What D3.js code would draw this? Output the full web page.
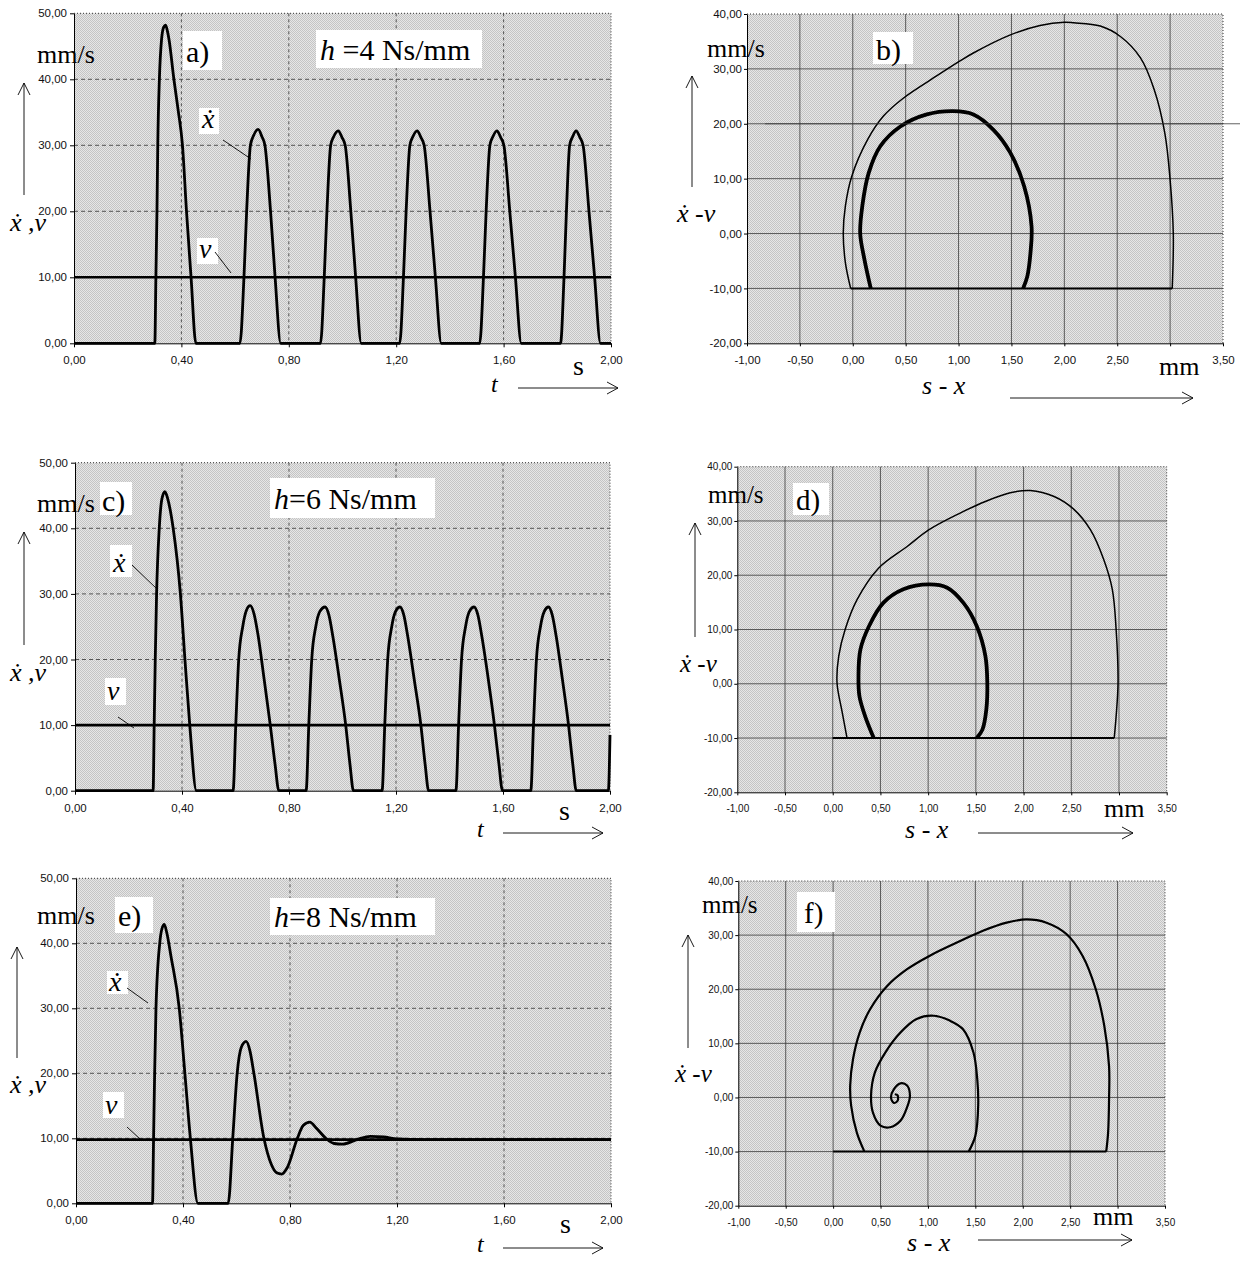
<!DOCTYPE html>
<html><head><meta charset="utf-8">
<script src="https://cdn.jsdelivr.net/npm/d3@7"></script>
<style>
body{margin:0;background:#fff;}
text{font-family:"Liberation Serif","DejaVu Serif",serif;}
.tick text{font-family:"Liberation Sans",Arial,sans-serif;fill:#111;}
</style></head><body>
<script>
// ---------- DATA ----------
const tTicks = [0, 0.4, 0.8, 1.2, 1.6, 2.0];
const vTicks = [0, 10, 20, 30, 40, 50];
const phaseXTicks = [-1, -0.5, 0, 0.5, 1, 1.5, 2, 2.5, 3, 3.5];
const phaseYTicks = [-20, -10, 0, 10, 20, 30, 40];
const phaseXHiddenLabel = 3; // covered by the "mm" unit in the original

// panel a: h = 4 Ns/mm
const vA = 10;
const xdotA = [[0,0],[0.301,0],[0.305,10],[0.309,20],[0.312,30],[0.318,40],[0.326,46],[0.334,47.9],[0.341,48.2],[0.348,47.3],[0.354,46],[0.372,40],[0.388,35.3],[0.404,30],[0.419,20],[0.436,10],[0.454,0],
[0.618,0],[0.633,10],[0.643,20],[0.657,30],[0.668,31.4],[0.686,32.4],[0.700,31.3],[0.711,30],[0.732,20],[0.749,10],[0.770,0],
[0.918,0],[0.932,10],[0.942,20],[0.956,30],[0.967,31.3],[0.984,32.2],[0.998,31.2],[1.010,30],[1.031,20],[1.049,10],[1.070,0],
[1.213,0],[1.227,10],[1.237,20],[1.251,30],[1.262,31.3],[1.278,32.2],[1.292,31.2],[1.304,30],[1.326,20],[1.346,10],[1.368,0],
[1.511,0],[1.525,10],[1.535,20],[1.549,30],[1.560,31.3],[1.575,32.2],[1.589,31.2],[1.601,30],[1.623,20],[1.644,10],[1.666,0],
[1.812,0],[1.825,10],[1.834,20],[1.846,30],[1.857,31.3],[1.870,32.2],[1.884,31.2],[1.896,30],[1.918,20],[1.939,10],[1.961,0],[2.0,0]];

// panel c: h = 6 Ns/mm
const vC = 10;
const xdotC = [[0,0],[0.292,0],[0.296,10],[0.300,20],[0.305,30],[0.315,40],[0.325,44.5],[0.336,45.6],[0.346,44.6],[0.367,40],[0.394,30],[0.411,20],[0.429,10],[0.454,0],
[0.591,0],[0.601,10],[0.612,20],[0.627,25],[0.641,27.5],[0.655,28.2],[0.669,27],[0.684,23.8],[0.707,17],[0.730,10],[0.748,4],[0.762,0],
[0.864,0],[0.874,10],[0.885,20],[0.900,25],[0.915,27.3],[0.935,28],[0.949,26.8],[0.964,23.5],[0.988,17],[1.012,10],[1.028,4],[1.041,0],
[1.148,0],[1.158,10],[1.169,20],[1.184,25],[1.198,27.3],[1.215,28],[1.229,26.8],[1.244,23.5],[1.268,17],[1.293,10],[1.309,4],[1.322,0],
[1.424,0],[1.434,10],[1.445,20],[1.460,25],[1.474,27.3],[1.492,28],[1.506,26.8],[1.521,23.5],[1.545,17],[1.568,10],[1.585,4],[1.598,0],
[1.704,0],[1.714,10],[1.725,20],[1.740,25],[1.754,27.3],[1.770,28],[1.784,26.8],[1.799,23.5],[1.822,17],[1.845,10],[1.861,4],[1.874,0],
[1.994,0],[2.0,8.5]];

// panel e: h = 8 Ns/mm
const vE = 9.8;
const xdotE = [[0,0],[0.286,0],[0.290,10],[0.294,20],[0.299,30],[0.313,40],[0.321,42.2],[0.330,42.9],[0.340,41.5],[0.355,38],[0.386,30],[0.407,20],[0.4275,10],[0.456,0],
[0.569,0],[0.586,10],[0.6025,20],[0.618,24],[0.636,24.9],[0.650,23.5],[0.665,20],[0.7025,10],[0.730,6],[0.750,4.7],[0.769,4.5],[0.790,5.5],[0.8275,10],[0.850,12],[0.874,12.5],[0.900,11.5],[0.934,10],[0.965,9.2],[0.996,9.1],[1.05,9.8],[1.10,10.3],[1.15,10.2],[1.20,9.9],[1.30,9.8],[2.0,9.8]];

// panel b (phase, h = 4)
const phaseB_outer = [[3.02,-10],[3.03,0],[3.00,9.8],[2.95,18.3],[2.85,26.2],[2.72,32],[2.53,35.9],[2.34,37.8],[2.09,38.4],[2.00,38.5],[1.77,37.9],[1.49,36.2],[1.14,32.9],[1.01,31.4],[0.80,28.8],[0.48,24.7],[0.29,21.4],[0.14,17.1],[-0.01,10.4],[-0.07,5],[-0.09,0.1],[-0.07,-5.3],[-0.02,-10]];
const phaseB_inner = [[0.17,-10],[0.11,-4.7],[0.07,0],[0.09,5],[0.15,11],[0.26,15.9],[0.45,19.5],[0.70,21.7],[0.95,22.3],[1.14,21.7],[1.33,18.9],[1.49,14.7],[1.62,8.6],[1.69,1.3],[1.68,-3.5],[1.65,-7.8],[1.61,-10]];
const phaseB_stick = [[-0.02,-10],[3.02,-10]];

// panel d (phase, h = 6)
const phaseD_outer = [[0.15,-10],[0.10,-5.3],[0.045,0.2],[0.063,5.1],[0.13,10],[0.255,15.5],[0.48,21.3],[0.78,25.3],[1.01,28.4],[1.34,31.5],[1.60,33.6],[1.86,35.2],[2.07,35.6],[2.32,34.5],[2.53,32.1],[2.70,28.4],[2.84,22.9],[2.93,17.4],[2.97,10],[2.99,0.2],[2.97,-6],[2.95,-10]];
const phaseD_inner = [[0.43,-10],[0.34,-6],[0.28,-2.3],[0.27,1.4],[0.29,6.3],[0.38,10.6],[0.53,14.9],[0.74,17.4],[1.01,18.3],[1.20,17.7],[1.37,14.9],[1.51,10.6],[1.60,5.1],[1.62,0.2],[1.61,-4.7],[1.57,-8.4],[1.51,-10]];
const phaseD_stick = [[0,-10],[2.95,-10]];

// panel f (phase, h = 8)
const phaseF_outer = [[0.33,-10],[0.25,-6.5],[0.19,-1.5],[0.18,2.2],[0.21,7.1],[0.28,12],[0.39,16.3],[0.57,20.6],[0.78,23.7],[1.02,26.2],[1.34,28.9],[1.58,30.8],[1.83,32.3],[2.04,32.9],[2.25,32.3],[2.46,30.2],[2.63,26.2],[2.77,20],[2.86,13.2],[2.91,5.8],[2.91,-0.3],[2.90,-6.5],[2.88,-10]];
const phaseF_spiral = [[1.43,-10],[1.50,-7.1],[1.53,-1.5],[1.52,3.4],[1.48,8.3],[1.37,12.6],[1.23,14.2],[1.06,15.1],[0.88,14.5],[0.71,12],[0.55,8.3],[0.44,4.6],[0.40,0.3],[0.42,-2.8],[0.50,-5.2],[0.60,-5.5],[0.71,-4.3],[0.78,-1.8],[0.81,0.3],[0.78,2.2],[0.71,2.6],[0.64,1.5],[0.61,0],[0.64,-1],[0.68,-0.6],[0.68,0.4],[0.65,0.6]];
const phaseF_stick = [[0,-10],[2.88,-10]];

// ---------- DRAW ----------
const fmt = v => v.toFixed(2).replace('.', ',');
const fmtPhase = v => v === phaseXHiddenLabel ? '' : fmt(v);
const svg = d3.select('body').append('svg').attr('width',1249).attr('height',1263);
const defs = svg.append('defs');
const pat = defs.append('pattern').attr('id','dots').attr('width',2).attr('height',2).attr('patternUnits','userSpaceOnUse');
pat.append('rect').attr('width',2).attr('height',2).attr('fill','#e6e6e6');
pat.append('rect').attr('width',1).attr('height',1).attr('fill','#c4c4c4');
pat.append('rect').attr('x',1).attr('y',1).attr('width',1).attr('height',1).attr('fill','#c4c4c4');

function styleAxis(sel, fs){
  sel.select('.domain').attr('stroke','#000').attr('stroke-width',1);
  sel.selectAll('.tick line').attr('stroke','#000');
  sel.selectAll('.tick text').attr('font-size',fs);
}
function arrowRight(g,x1,x2,y){
  g.append('line').attr('x1',x1).attr('x2',x2).attr('y1',y).attr('y2',y).attr('stroke','#000').attr('stroke-width',0.9);
  g.append('path').attr('d',`M${x2-11},${y-6}L${x2},${y}L${x2-11},${y+6}`).attr('fill','none').attr('stroke','#000').attr('stroke-width',0.9);
}
function arrowUp(g,x,y1,y2){
  g.append('line').attr('x1',x).attr('x2',x).attr('y1',y1).attr('y2',y2).attr('stroke','#000').attr('stroke-width',0.9);
  g.append('path').attr('d',`M${x-6},${y2+12}L${x},${y2}L${x+6},${y2+12}`).attr('fill','none').attr('stroke','#000').attr('stroke-width',0.9);
}
function txt(g,x,y,s,fs,italic){
  return g.append('text').attr('x',x).attr('y',y).attr('font-size',fs).attr('font-style',italic?'italic':'normal').text(s);
}
function box(g,x,y,w,h){ g.append('rect').attr('x',x).attr('y',y).attr('width',w).attr('height',h).attr('fill','#fff'); }
function leader(g,x1,y1,x2,y2){ g.append('line').attr('x1',x1).attr('y1',y1).attr('x2',x2).attr('y2',y2).attr('stroke','#000').attr('stroke-width',0.9); }

function timePanel(L, xdot, vval){
  const x = d3.scaleLinear().domain([0,2]).range([L.x0,L.x1]);
  const y = d3.scaleLinear().domain([0,50]).range([L.yB,L.yT]);
  const g = svg.append('g');
  g.append('rect').attr('x',L.x0).attr('y',L.yT).attr('width',L.x1-L.x0).attr('height',L.yB-L.yT).attr('fill','url(#dots)');
  g.selectAll('.vg').data(tTicks.slice(1,-1)).join('line').attr('x1',d=>x(d)).attr('x2',d=>x(d)).attr('y1',L.yT).attr('y2',L.yB)
    .attr('stroke','#333').attr('stroke-width',0.8).attr('stroke-dasharray','3,3');
  g.selectAll('.hg').data(vTicks.slice(1,-1)).join('line').attr('x1',L.x0).attr('x2',L.x1).attr('y1',d=>y(d)).attr('y2',d=>y(d))
    .attr('stroke','#333').attr('stroke-width',0.8).attr('stroke-dasharray','4,3');
  g.append('path').attr('d',`M${L.x0},${L.yT}H${L.x1}V${L.yB}`).attr('fill','none').attr('stroke','#333').attr('stroke-dasharray','1,2');
  g.append('g').attr('transform',`translate(0,${L.yB})`)
    .call(d3.axisBottom(x).tickValues(tTicks).tickFormat(fmt).tickSizeInner(4).tickSizeOuter(0).tickPadding(9)).call(s=>styleAxis(s,11.5));
  g.append('g').attr('transform',`translate(${L.x0},0)`)
    .call(d3.axisLeft(y).tickValues(vTicks).tickFormat(fmt).tickSizeInner(4).tickSizeOuter(0).tickPadding(3)).call(s=>styleAxis(s,11.5));
  g.append('line').attr('x1',x(0)).attr('x2',x(2)).attr('y1',y(vval)).attr('y2',y(vval)).attr('stroke','#000').attr('stroke-width',2.6);
  g.append('path').datum(xdot).attr('fill','none').attr('stroke','#000').attr('stroke-width',2.8).attr('stroke-linejoin','round')
    .attr('d',d3.line().x(d=>x(d[0])).y(d=>y(d[1])).curve(d3.curveMonotoneX));
  return g;
}

function phasePanel(L, outer, inner, stick, wOuter, wInner, fs){
  const x = d3.scaleLinear().domain([-1,3.5]).range([L.x0,L.x1]);
  const y = d3.scaleLinear().domain([-20,40]).range([L.yB,L.yT]);
  const g = svg.append('g');
  g.append('rect').attr('x',L.x0).attr('y',L.yT).attr('width',L.x1-L.x0).attr('height',L.yB-L.yT).attr('fill','url(#dots)');
  g.selectAll('.vg').data(phaseXTicks.slice(1,-1)).join('line').attr('x1',d=>x(d)).attr('x2',d=>x(d)).attr('y1',L.yT).attr('y2',L.yB)
    .attr('stroke','#3a3a3a').attr('stroke-width',0.8);
  g.selectAll('.hg').data(phaseYTicks.slice(1,-1)).join('line').attr('x1',L.x0).attr('x2',L.x1).attr('y1',d=>y(d)).attr('y2',d=>y(d))
    .attr('stroke','#3a3a3a').attr('stroke-width',0.8);
  g.append('path').attr('d',`M${L.x0},${L.yT}H${L.x1}V${L.yB}`).attr('fill','none').attr('stroke','#333').attr('stroke-dasharray','1,2');
  g.append('g').attr('transform',`translate(0,${L.yB})`)
    .call(d3.axisBottom(x).tickValues(phaseXTicks).tickFormat(fmtPhase).tickSizeInner(3).tickSizeOuter(0).tickPadding(10)).call(s=>styleAxis(s,fs));
  g.append('g').attr('transform',`translate(${L.x0},0)`)
    .call(d3.axisLeft(y).tickValues(phaseYTicks).tickFormat(fmt).tickSizeInner(3).tickSizeOuter(0).tickPadding(2)).call(s=>styleAxis(s,fs));
  const line = d3.line().x(d=>x(d[0])).y(d=>y(d[1])).curve(d3.curveCatmullRom.alpha(0.5));
  g.append('path').datum(stick).attr('fill','none').attr('stroke','#000').attr('stroke-width',2).attr('d',d3.line().x(d=>x(d[0])).y(d=>y(d[1])));
  g.append('path').datum(outer).attr('fill','none').attr('stroke','#000').attr('stroke-width',wOuter).attr('d',line);
  g.append('path').datum(inner).attr('fill','none').attr('stroke','#000').attr('stroke-width',wInner).attr('d',line);
  return {g,x,y};
}

// ---- panel a ----
const ga = timePanel({x0:74,x1:611,yT:13.3,yB:343.3}, xdotA, vA);
txt(ga,37,63,'mm/s',26);
box(ga,183,31,39,39); txt(ga,186,62,'a)',30);
box(ga,316,30,166,38); const ha = txt(ga,320,60,'',30); ha.append('tspan').attr('font-style','italic').text('h'); ha.append('tspan').text(' =4 Ns/mm');
box(ga,199,108,20,26); txt(ga,202,128,'ẋ',28,true); leader(ga,223,140,251,159);
box(ga,197,238,21,26); txt(ga,199,258,'v',28,true); leader(ga,215,252,231,273);
txt(ga,10,231,'ẋ ,v',26,true);
arrowUp(ga,24,195,83);
txt(ga,491,392,'t',24,true); txt(ga,573,375,'s',28); arrowRight(ga,518,618,388);

// ---- panel c ----
const gc = timePanel({x0:75,x1:610,yT:462.7,yB:790.7}, xdotC, vC);
txt(gc,37,512,'mm/s',26);
box(gc,100,482,32,33); txt(gc,102,511,'c)',30);
box(gc,270,478,165,40); const hc = txt(gc,274,509,'',30); hc.append('tspan').attr('font-style','italic').text('h'); hc.append('tspan').text('=6 Ns/mm');
box(gc,110,545,22,32); txt(gc,113,572,'ẋ',28,true); leader(gc,132,565,157,589);
box(gc,105,678,21,27); txt(gc,107,700,'v',28,true); leader(gc,118,717,134,728);
txt(gc,10,681,'ẋ ,v',26,true);
arrowUp(gc,24,645,532);
txt(gc,477,837,'t',24,true); txt(gc,559,820,'s',28); arrowRight(gc,503,603,833);

// ---- panel e ----
const ge = timePanel({x0:76,x1:611,yT:878.3,yB:1203.3}, xdotE, vE);
txt(ge,37,924,'mm/s',26);
box(ge,115,897,38,36); txt(ge,118,926,'e)',30);
box(ge,270,898,165,37); const he = txt(ge,274,927,'',30); he.append('tspan').attr('font-style','italic').text('h'); he.append('tspan').text('=8 Ns/mm');
box(ge,107,971,21,23); txt(ge,109,991,'ẋ',28,true); leader(ge,127,988,148,1003);
box(ge,103,1092,21,26); txt(ge,105,1114,'v',28,true); leader(ge,127,1127,140,1139);
txt(ge,10,1093,'ẋ ,v',26,true);
arrowUp(ge,17,1058,947);
txt(ge,477,1252,'t',24,true); txt(ge,560,1233,'s',28); arrowRight(ge,503,603,1248);

// ---- panel b ----
const pb = phasePanel({x0:747,x1:1223,yT:14,yB:343.3}, phaseB_outer, phaseB_inner, phaseB_stick, 1.5, 3.8, 11.5);
pb.g.append('line').attr('x1',765).attr('x2',1240).attr('y1',pb.y(20)).attr('y2',pb.y(20)).attr('stroke','#3a3a3a').attr('stroke-width',0.8);
txt(pb.g,707,57,'mm/s',26);
box(pb.g,873,32,40,32); txt(pb.g,876,60,'b)',30);
arrowUp(pb.g,692,187,76);
txt(pb.g,677,222,'ẋ -v',26,true);
const sb = txt(pb.g,922,394,'',26,false); sb.append('tspan').attr('font-style','italic').text('s'); sb.append('tspan').text(' - '); sb.append('tspan').attr('font-style','italic').text('x');
arrowRight(pb.g,1010,1193,398);
txt(pb.g,1159,375,'mm',26);

// ---- panel d ----
const pd = phasePanel({x0:737.3,x1:1166.7,yT:466.7,yB:792.3}, phaseD_outer, phaseD_inner, phaseD_stick, 1.5, 3.8, 10);
txt(pd.g,708,503,'mm/s',25);
box(pd.g,793,483,36,32); txt(pd.g,796,510,'d)',29);
arrowUp(pd.g,695,637,523);
txt(pd.g,680,672,'ẋ -v',25,true);
const sd = txt(pd.g,905,838,'',26,false); sd.append('tspan').attr('font-style','italic').text('s'); sd.append('tspan').text(' - '); sd.append('tspan').attr('font-style','italic').text('x');
arrowRight(pd.g,978,1133,833);
txt(pd.g,1104,817,'mm',26);

// ---- panel f ----
const pf = phasePanel({x0:738.3,x1:1165,yT:881,yB:1205.7}, phaseF_outer, phaseF_spiral, phaseF_stick, 2.2, 2.2, 10);
txt(pf.g,702,913,'mm/s',25);
box(pf.g,797,892,38,40); txt(pf.g,804,923,'f)',29);
arrowUp(pf.g,688,1048,935);
txt(pf.g,675,1082,'ẋ -v',25,true);
const sf = txt(pf.g,907,1251,'',26,false); sf.append('tspan').attr('font-style','italic').text('s'); sf.append('tspan').text(' - '); sf.append('tspan').attr('font-style','italic').text('x');
arrowRight(pf.g,978,1132,1240);
txt(pf.g,1093,1225,'mm',26);
</script>
</body></html>
